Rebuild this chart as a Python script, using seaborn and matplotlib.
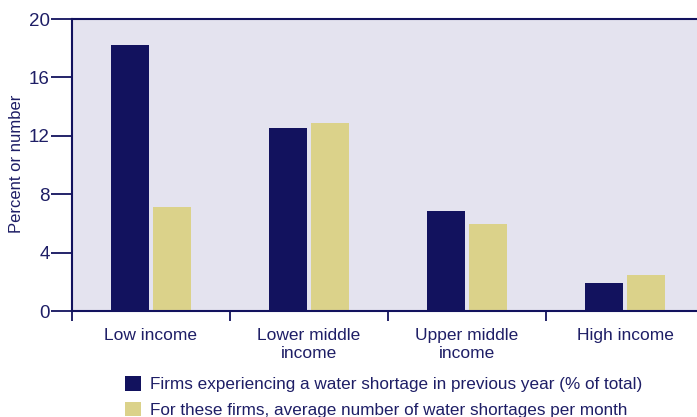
import numpy as np
import pandas as pd
import matplotlib
matplotlib.use('Agg')
import matplotlib.pyplot as plt
import seaborn as sns

categories = ['Low income', 'Lower middle\nincome', 'Upper middle\nincome', 'High income']
share_firms = [18.2, 12.5, 6.85, 1.9]
shortages_per_month = [7.1, 12.9, 5.95, 2.45]
series_names = ['Firms experiencing a water shortage in previous year (% of total)',
                'For these firms, average number of water shortages per month']
y_ticks = [0, 4, 8, 12, 16, 20]

navy = '#12125E'
khaki = '#DBD28A'
text_col = '#1E1E66'

sns.set_theme(style='white')
plt.rcParams['font.family'] = ['Liberation Sans', 'DejaVu Sans']

df = pd.DataFrame({
    'category': categories * 2,
    'value': share_firms + shortages_per_month,
    'series': [series_names[0]] * 4 + [series_names[1]] * 4,
})

fig = plt.figure(figsize=(6.97, 4.17), dpi=100)
ax = fig.add_axes([72 / 697, 1 - 311 / 417, 632 / 697, 292 / 417])
ax.set_facecolor('#E4E3EF')

sns.barplot(data=df, x='category', y='value', hue='series',
            palette=[navy, khaki], width=0.544, gap=0.116,
            saturation=1, linewidth=0, ax=ax, legend=True)

ax.set_xlim(-0.5, 3.5)
ax.set_ylim(0, 20)
ax.set_yticks(y_ticks)
ax.set_yticklabels([str(t) for t in y_ticks])
ax.set_xticks(range(4))
ax.set_xticklabels(categories, linespacing=1.3)
ax.set_xticks([-0.5, 0.5, 1.5, 2.5, 3.5], minor=True)
ax.tick_params(axis='x', which='major', length=0, pad=12, labelsize=12.5, labelcolor=text_col)
ax.tick_params(axis='x', which='minor', length=7, width=1.3, color=navy, direction='out', bottom=True)
ax.tick_params(axis='y', length=15, width=1.3, color=navy, direction='out', pad=1,
               labelsize=13.5, labelcolor=text_col, left=True)
ax.set_xlabel('')
ax.set_ylabel('Percent or number', fontsize=12, color=text_col)
ax.yaxis.set_label_coords(-48 / 632, 0.505)

for side in ['left', 'bottom', 'top']:
    ax.spines[side].set_color(navy)
    ax.spines[side].set_linewidth(1.5)
ax.spines['right'].set_visible(False)

ax.legend(loc='upper left', bbox_to_anchor=(125 / 697, 1 - 376 / 417),
          bbox_transform=fig.transFigure, frameon=False, fontsize=12.3,
          handlelength=0.95, handleheight=0.95, handletextpad=0.5,
          labelspacing=0.55, borderaxespad=0, borderpad=0,
          labelcolor=text_col)

fig.savefig('out.png', dpi=100)
